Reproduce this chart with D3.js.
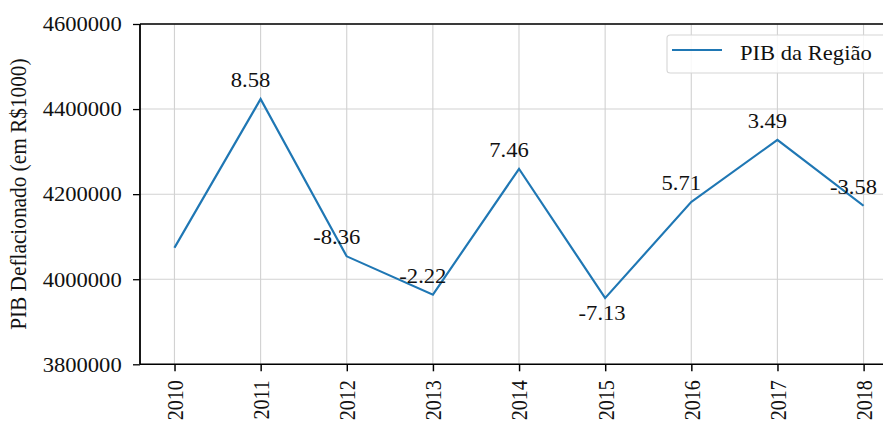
<!DOCTYPE html>
<html>
<head>
<meta charset="utf-8">
<script src="https://cdn.jsdelivr.net/npm/d3@7"></script>
<style>
  html, body { margin: 0; padding: 0; background: #fff; }
  svg { display: block; }
  text { font-family: "Liberation Serif", "Times New Roman", serif; fill: #111; }
</style>
</head>
<body>
<div id="chart"></div>
<script>
// Regional GDP (deflated, R$1000) and year-on-year growth (%)
const years = [2010, 2011, 2012, 2013, 2014, 2015, 2016, 2017, 2018];
const pib = [4074000, 4423550, 4053740, 3963750, 4259440, 3955740, 4181620, 4327560, 4172630];
const growth = [null, 8.58, -8.36, -2.22, 7.46, -7.13, 5.71, 3.49, -3.58];
const yTicks = [3800000, 4000000, 4200000, 4400000, 4600000];
const seriesName = "PIB da Região";
const yLabel = "PIB Deflacionado (em R$1000)";

// The drawing uses a horizontally stretched coordinate system
const W = 883, H = 421, SX = 1.13;
const IW = W / SX;

const svg = d3.select("#chart").append("svg")
  .attr("width", W).attr("height", H)
  .attr("viewBox", `0 0 ${IW} ${H}`)
  .attr("preserveAspectRatio", "none");

const axLeft = 140 / SX, axRight = 898 / SX, axTop = 24, axBottom = 364.3;

const x = d3.scaleLinear().domain([2009.6, 2018.4]).range([axLeft, axRight]);
const y = d3.scaleLinear().domain([3800000, 4600000]).range([axBottom, axTop]);

// grid
const grid = svg.append("g").attr("stroke", "#d2d2d2").attr("stroke-width", 1);
grid.selectAll("line.v").data(years).join("line")
  .attr("x1", d => x(d)).attr("x2", d => x(d))
  .attr("y1", axTop).attr("y2", axBottom);
grid.selectAll("line.h").data(yTicks).join("line")
  .attr("x1", axLeft).attr("x2", axRight)
  .attr("y1", d => y(d)).attr("y2", d => y(d));

// axes
const xAxis = d3.axisBottom(x).tickValues(years).tickFormat(d3.format("d"))
  .tickSize(7).tickPadding(0);
const gx = svg.append("g").attr("transform", `translate(0,${axBottom})`).call(xAxis);
gx.select(".domain").remove();
gx.selectAll(".tick line").attr("stroke", "#000").attr("stroke-width", 1.3);
gx.selectAll(".tick text")
  .attr("font-size", 20)
  .attr("text-anchor", "end")
  .attr("transform", "translate(0,16) rotate(-90)")
  .attr("dy", "0.35em")
  .attr("x", 0).attr("y", 0);

const yAxis = d3.axisLeft(y).tickValues(yTicks).tickFormat(d3.format("d"))
  .tickSize(6.2).tickPadding(10);
const gy = svg.append("g").attr("transform", `translate(${axLeft},0)`).call(yAxis);
gy.select(".domain").remove();
gy.selectAll(".tick line").attr("stroke", "#000").attr("stroke-width", 1.3);
gy.selectAll(".tick text").attr("font-size", 20).attr("dy", "0.34em");

// spines
const spines = svg.append("g").attr("stroke", "#000").attr("stroke-width", 1.6).attr("fill", "none");
spines.append("line").attr("x1", axLeft).attr("x2", axLeft).attr("y1", axTop).attr("y2", axBottom);
spines.append("line").attr("x1", axLeft).attr("x2", axRight).attr("y1", axBottom).attr("y2", axBottom);
spines.append("line").attr("x1", axLeft).attr("x2", axRight).attr("y1", axTop).attr("y2", axTop);
spines.append("line").attr("x1", axRight).attr("x2", axRight).attr("y1", axTop).attr("y2", axBottom);

// y label
svg.append("text")
  .attr("transform", `translate(${26 / SX},${(axTop + axBottom) / 2}) rotate(-90)`)
  .attr("text-anchor", "middle")
  .attr("font-size", 21.3)
  .text(yLabel);

// series line
const data = years.map((yr, i) => ({ year: yr, value: pib[i], growth: growth[i] }));
const line = d3.line().x(d => x(d.year)).y(d => y(d.value));
svg.append("path").datum(data)
  .attr("d", line)
  .attr("fill", "none")
  .attr("stroke", "#1f77b4")
  .attr("stroke-width", 2)
  .attr("stroke-linejoin", "miter");

// growth annotations (plain hyphen for negatives)
const fmtGrowth = v => d3.format(".2f")(v).replace("\u2212", "-");
svg.append("g").selectAll("text").data(data.filter(d => d.growth !== null)).join("text")
  .attr("font-size", 20)
  .attr("text-anchor", "middle")
  .attr("x", d => x(d.year) + (d.year === 2015 ? -3 : -10) / SX)
  .attr("y", d => y(d.value) + (d.year === 2015 ? 22 : -12))
  .text(d => fmtGrowth(d.growth));

// legend
const lg = svg.append("g");
lg.append("rect")
  .attr("x", 667 / SX).attr("y", 35)
  .attr("width", (890 - 667) / SX).attr("height", 38)
  .attr("rx", 3).attr("ry", 3)
  .attr("fill", "#fff").attr("fill-opacity", 0.85)
  .attr("stroke", "#d6d6d6").attr("stroke-width", 1);
lg.append("line")
  .attr("x1", 672 / SX).attr("x2", 722 / SX)
  .attr("y1", 50).attr("y2", 50)
  .attr("stroke", "#1f77b4").attr("stroke-width", 2);
lg.append("text")
  .attr("x", 740 / SX).attr("y", 60)
  .attr("font-size", 20)
  .text(seriesName);
</script>
</body>
</html>
